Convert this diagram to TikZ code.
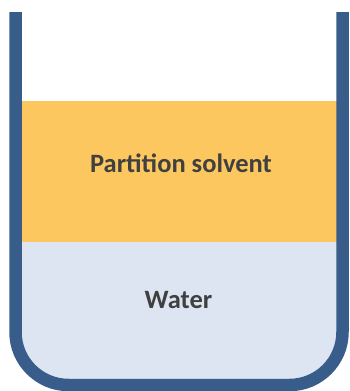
\documentclass[tikz,border=0pt]{standalone}
\usepackage{fontspec}
\setsansfont{Carlito}
\definecolor{beaker}{HTML}{385D8A}
\definecolor{solvent}{HTML}{FDC75F}
\definecolor{water}{HTML}{DCE5F1}
\definecolor{labeltext}{HTML}{404040}
\begin{document}
\begin{tikzpicture}[x=1pt,y=-1pt]
	\useasboundingbox (0,0) rectangle (349,391);
	\tikzset{layer label/.style={text=labeltext,anchor=base,inner sep=0pt,font=\sffamily\bfseries\fontsize{26.5}{30}\selectfont}}

	\fill[solvent] (15,101) rectangle (343,242);
	\fill[water,rounded corners=53] (15.5,242) -- (15.5,385) -- (342.5,385) -- (342.5,242);

	\draw[beaker,line width=12.5,rounded corners=53] (15.5,12) -- (15.5,385) -- (342.5,385) -- (342.5,12);

	\node[layer label] (solvent) at (181,172) {Partition solvent};
	\node[layer label] (water) at (178.5,308) {Water};
\end{tikzpicture}
\end{document}
